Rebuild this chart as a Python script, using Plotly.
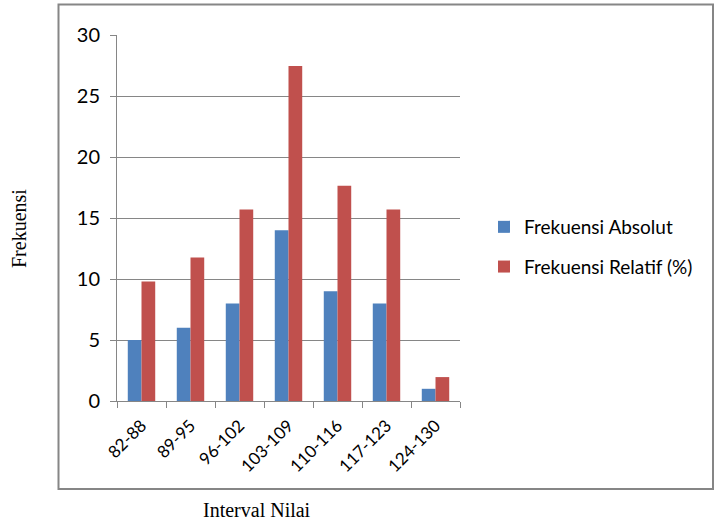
import plotly.graph_objects as go

categories = ["82-88", "89-95", "96-102", "103-109", "110-116", "117-123", "124-130"]
absolut = [5, 6, 8, 14, 9, 8, 1]
relatif = [9.8, 11.76, 15.69, 27.45, 17.65, 15.69, 1.96]
y_ticks = [0, 5, 10, 15, 20, 25, 30]

W, H = 714, 522
L, R, T, B = 117, 460, 35, 401
pw, ph = R - L, B - T

def px(x):
    return (x - L) / pw

def py(y):
    return (B - y) / ph

fig = go.Figure()
fig.add_trace(go.Bar(x=categories, y=absolut, name="Frekuensi Absolut",
                     marker=dict(color="#4F81BD", line=dict(width=0)), legendgroup="a"))
fig.add_trace(go.Bar(x=categories, y=relatif, name="Frekuensi Relatif (%)",
                     marker=dict(color="#C0504D", line=dict(width=0)), legendgroup="b"))

fig.update_layout(
    width=W, height=H,
    margin=dict(l=L, r=W - R, t=T, b=H - B, pad=0),
    paper_bgcolor="white", plot_bgcolor="white",
    barmode="group", bargap=0.44, bargroupgap=0,
    font=dict(family="Lato, Open Sans, sans-serif", color="black"),
    legend=dict(x=px(484), y=py(208), xanchor="left", yanchor="top",
                font=dict(size=19), tracegroupgap=12, bgcolor="rgba(0,0,0,0)",
                itemwidth=30),
    showlegend=True,
)
fig.update_yaxes(range=[0, 30], tickvals=y_ticks, showgrid=True, gridcolor="#868686",
                 gridwidth=1, showline=True, linecolor="#868686", linewidth=1,
                 ticks="outside", ticklen=6, tickcolor="#868686",
                 ticklabelstandoff=6,
                 tickfont=dict(size=20), zeroline=False, fixedrange=True)
fig.update_xaxes(showline=True, linecolor="#868686", linewidth=1, ticks="outside",
                 tickson="boundaries", ticklen=6, tickcolor="#868686",
                 ticklabelstandoff=7,
                 tickangle=-45, tickfont=dict(size=17), showgrid=False)

# outer chart border
fig.add_shape(type="rect", xref="paper", yref="paper",
              x0=px(58.5), x1=px(713), y0=py(489), y1=py(4.5),
              line=dict(color="#868686", width=2), fillcolor="rgba(0,0,0,0)", layer="below")

fig.add_annotation(text="Frekuensi", xref="paper", yref="paper", x=px(19), y=py(229),
                   xanchor="center", yanchor="middle",
                   textangle=-90, showarrow=False,
                   font=dict(family="Liberation Serif, DejaVu Serif, serif", size=20))
fig.add_annotation(text="Interval Nilai", xref="paper", yref="paper", x=px(257), y=py(510),
                   xanchor="center", yanchor="middle",
                   showarrow=False,
                   font=dict(family="Liberation Serif, DejaVu Serif, serif", size=20))

fig.write_html("out.html")
